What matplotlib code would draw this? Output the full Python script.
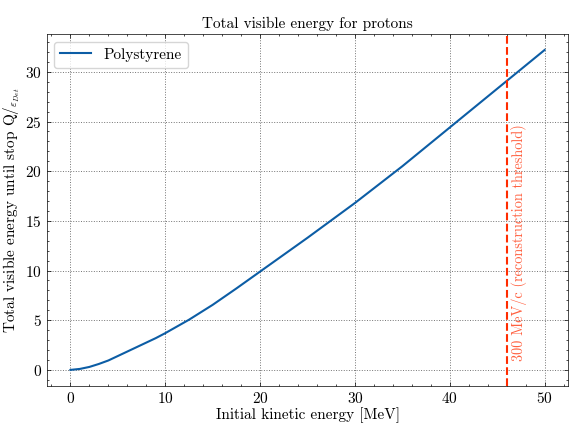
import matplotlib
matplotlib.use("Agg")
import matplotlib.pyplot as plt
from matplotlib.ticker import MultipleLocator

# kinetic energy [MeV] and visible energy
energy = [0, 1, 2, 3, 4, 5, 6, 7, 8, 9, 10, 12.5, 15, 17.5, 20, 25, 30, 35, 40, 45, 50]
visible = [0.0, 0.1, 0.3, 0.6, 0.95, 1.4, 1.85, 2.3, 2.75, 3.2, 3.7, 5.05, 6.55, 8.2,
           9.9, 13.3, 16.8, 20.5, 24.4, 28.3, 32.2]
threshold = 46.0
threshold_label = "300 MeV/c (reconstruction threshold)"

plt.rcParams.update({
    "font.family": "serif",
    "font.serif": ["cmr10"],
    "mathtext.fontset": "cm",
    "axes.formatter.use_mathtext": True,
    "font.size": 11,
    "xtick.direction": "in",
    "ytick.direction": "in",
    "xtick.top": True,
    "ytick.right": True,
    "xtick.minor.visible": True,
    "ytick.minor.visible": True,
    "xtick.major.size": 3,
    "xtick.minor.size": 1.5,
    "ytick.major.size": 3,
    "ytick.minor.size": 1.5,
    "axes.linewidth": 0.5,
    "xtick.major.width": 0.5,
    "xtick.minor.width": 0.5,
    "ytick.major.width": 0.5,
    "ytick.minor.width": 0.5,
})

fig, ax = plt.subplots(figsize=(5.7, 4.25), dpi=100)
fig.subplots_adjust(left=0.082, right=0.997, top=0.92, bottom=0.092)

ax.plot(energy, visible, color="#0C5DA5", lw=1.5, label="Polystyrene")
ax.axvline(threshold, color="#FF2C00", ls="--", lw=1.5)
ax.text(threshold + 0.45, 0.9, threshold_label, rotation=90, color="#FF2C00",
        alpha=0.75, ha="left", va="bottom", fontsize=10.3)

ax.xaxis.set_major_locator(MultipleLocator(10))
ax.xaxis.set_minor_locator(MultipleLocator(2))
ax.yaxis.set_major_locator(MultipleLocator(5))
ax.yaxis.set_minor_locator(MultipleLocator(1))
ax.grid(True, ls=":", color="0.45", lw=0.7)

ax.set_title("Total visible energy for protons", fontsize=11, pad=4)
ax.set_xlabel("Initial kinetic energy [MeV]", labelpad=1)
ax.set_ylabel(r"Total visible energy until stop Q$/_{\varepsilon_{Det}}$", labelpad=2)
ax.legend(loc="upper left", frameon=True, fancybox=True)

fig.savefig("out.png", dpi=100)
